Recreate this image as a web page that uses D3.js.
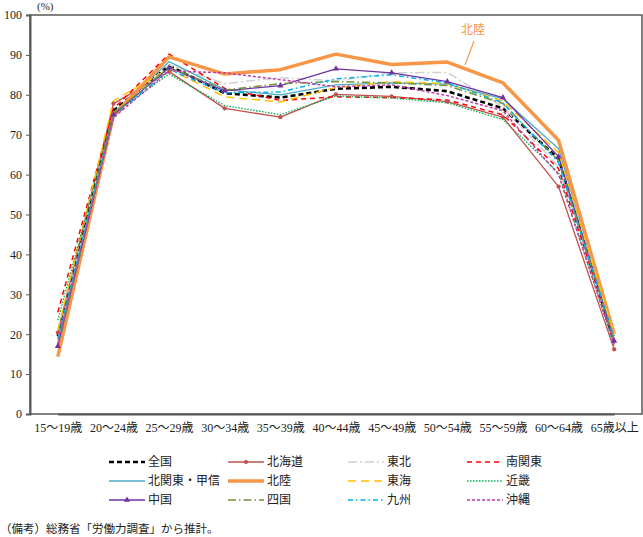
<!DOCTYPE html>
<html>
<head>
<meta charset="utf-8">
<script src="https://cdn.jsdelivr.net/npm/d3@7"></script>
<style>
  body { margin: 0; background: #fff; }
  svg text { font-family: "Liberation Serif", "Noto Sans CJK JP", serif; }
</style>
</head>
<body>
<div id="chart"></div>
<script>
!(function () {
  // - - - - - - - - - -

  const ages = ['15～19歳', '20～24歳', '25～29歳', '30～34歳', '35～39歳', '40～44歳',
    '45～49歳', '50～54歳', '55～59歳', '60～64歳', '65歳以上'];
  const yTicks = [0, 10, 20, 30, 40, 50, 60, 70, 80, 90, 100];

  const zenkoku   = [19.5, 76.0, 87.3, 80.4, 79.3, 81.5, 82.0, 80.9, 76.6, 64.0, 18.0];
  const hokkaido  = [20.4, 77.8, 85.8, 76.6, 74.4, 80.1, 79.6, 78.3, 74.4, 57.0, 16.2];
  const tohoku    = [17.5, 75.0, 87.5, 82.8, 84.3, 83.5, 85.5, 85.6, 77.0, 62.0, 19.0];
  const minamiKanto = [25.5, 76.5, 90.2, 81.6, 78.6, 79.5, 79.3, 78.7, 75.0, 61.5, 18.5];
  const kitaKanto = [18.5, 75.5, 88.3, 81.3, 80.0, 82.5, 83.0, 82.7, 79.0, 66.5, 19.5];
  const hokuriku  = [14.4, 74.8, 89.5, 85.2, 86.3, 90.2, 87.6, 88.2, 83.0, 68.6, 20.0];
  const tokai     = [21.0, 78.5, 86.5, 79.5, 78.2, 81.8, 83.3, 82.8, 78.4, 65.5, 20.0];
  const kinki     = [23.5, 75.3, 85.2, 77.3, 75.0, 79.7, 79.2, 78.0, 73.8, 60.5, 17.0];
  const chugoku   = [17.0, 75.0, 86.8, 81.0, 82.3, 86.5, 85.5, 83.3, 79.3, 64.5, 18.3];
  const shikoku   = [16.5, 75.2, 87.0, 81.2, 82.8, 83.3, 83.0, 82.3, 77.8, 63.5, 18.5];
  const kyushu    = [19.0, 74.5, 86.3, 80.5, 80.7, 84.0, 85.0, 83.0, 78.0, 63.0, 19.0];
  const okinawa   = [17.5, 74.3, 86.0, 85.5, 83.8, 82.0, 82.5, 79.8, 76.0, 60.0, 17.5];

  const series = [
    { name: '全国', values: zenkoku, color: '#000000', width: 2.6, dash: '5,3' },
    { name: '北海道', values: hokkaido, color: '#C0504D', width: 1.3, dash: null, marker: 'circle' },
    { name: '東北', values: tohoku, color: '#D0D0D0', width: 1.5, dash: '9,3,2,3' },
    { name: '南関東', values: minamiKanto, color: '#FF0000', width: 1.5, dash: '5,4' },
    { name: '北関東・甲信', values: kitaKanto, color: '#4BACC6', width: 1.3, dash: null },
    { name: '北陸', values: hokuriku, color: '#F79646', width: 3.5, dash: null },
    { name: '東海', values: tokai, color: '#FFC000', width: 1.5, dash: '8,5' },
    { name: '近畿', values: kinki, color: '#00B050', width: 1.3, dash: '1.5,1.5' },
    { name: '中国', values: chugoku, color: '#7030A0', width: 1.3, dash: null, marker: 'triangle' },
    { name: '四国', values: shikoku, color: '#77933C', width: 1.5, dash: '8,3,1.5,3' },
    { name: '九州', values: kyushu, color: '#00B0F0', width: 1.5, dash: '5,3,1.5,3' },
    { name: '沖縄', values: okinawa, color: '#C03CA8', width: 1.5, dash: '3,2' }
  ];

  let
    width = 643,
    height = 537,
    left = 30,
    right = 642,
    top = 15,
    bottom = 414,
    band = (right - left) / ages.length;

  const x = d3.scalePoint()
    .domain(ages)
    .range([left + band / 2, right - band / 2]);

  const y = d3.scaleLinear()
    .domain([0, 100])
    .range([bottom, top]);

  const svg = d3.select('#chart')
    .append('svg')
    .attr('width', width)
    .attr('height', height)
    .attr('viewBox', '0 0 ' + width + ' ' + height);

  // frame
  svg.append('rect')
    .attr('x', left)
    .attr('y', top)
    .attr('width', right - left)
    .attr('height', bottom - top)
    .style('fill', 'none')
    .style('stroke', '#595959')
    .style('stroke-width', 1.5);

  // y axis
  const yAxis = svg.append('g')
    .attr('transform', 'translate(' + left + ',0)')
    .call(d3.axisLeft(y).tickValues(yTicks).tickSize(4).tickPadding(4));
  yAxis.select('.domain').style('stroke', '#595959').style('stroke-width', 2);
  yAxis.selectAll('line').style('stroke', '#595959');
  yAxis.selectAll('text').style('font-size', '12px').style('fill', '#222');

  svg.append('text')
    .attr('x', 37)
    .attr('y', 10)
    .style('font-size', '11px')
    .style('fill', '#222')
    .text('(%)');

  // x axis
  const xAxis = svg.append('g')
    .attr('transform', 'translate(0,' + bottom + ')')
    .call(d3.axisBottom(x).tickSize(0).tickPadding(9));
  xAxis.select('.domain').style('stroke', '#595959').style('stroke-width', 2);
  xAxis.selectAll('text').style('font-size', '12px').style('fill', '#222');

  // lines
  const line = d3.line()
    .x(function (d, i) { return x(ages[i]); })
    .y(function (d) { return y(d); });

  svg.selectAll('.series')
    .data(series)
    .enter()
    .append('path')
    .attr('class', 'series')
    .attr('d', function (d) { return line(d.values); })
    .style('fill', 'none')
    .style('stroke', function (d) { return d.color; })
    .style('stroke-width', function (d) { return d.width; })
    .style('stroke-dasharray', function (d) { return d.dash; })
    .style('stroke-linejoin', 'round');

  // markers
  const symbolFor = function (m) {
    return d3.symbol().type(m === 'triangle' ? d3.symbolTriangle : d3.symbolCircle).size(m === 'triangle' ? 16 : 14)();
  };

  series.filter(function (d) { return d.marker; }).forEach(function (s) {
    svg.selectAll(null)
      .data(s.values)
      .enter()
      .append('path')
      .attr('d', symbolFor(s.marker))
      .attr('transform', function (d, i) { return 'translate(' + x(ages[i]) + ',' + y(d) + ')'; })
      .style('fill', s.color);
  });

  // 北陸 callout
  svg.append('line')
    .attr('x1', 474).attr('y1', 41)
    .attr('x2', 465).attr('y2', 65)
    .style('stroke', '#F79646')
    .style('stroke-width', 1.2);
  svg.append('text')
    .attr('x', 473)
    .attr('y', 34)
    .attr('text-anchor', 'middle')
    .style('font-size', '12px')
    .style('fill', '#F79646')
    .text('北陸');

  // legend
  const colX = [109, 228, 348, 467];
  const rowY = [462, 481, 500];

  const legend = svg.selectAll('.legend')
    .data(series)
    .enter()
    .append('g')
    .attr('class', 'legend')
    .attr('transform', function (d, i) {
      return 'translate(' + colX[i % 4] + ',' + rowY[Math.floor(i / 4)] + ')';
    });

  legend.append('line')
    .attr('x1', 0).attr('x2', 36)
    .attr('y1', 0).attr('y2', 0)
    .style('stroke', function (d) { return d.color; })
    .style('stroke-width', function (d) { return d.width; })
    .style('stroke-dasharray', function (d) { return d.dash; });

  legend.filter(function (d) { return d.marker; })
    .append('path')
    .attr('d', function (d) { return symbolFor(d.marker); })
    .attr('transform', 'translate(18,0)')
    .style('fill', function (d) { return d.color; });

  legend.append('text')
    .attr('x', 39)
    .attr('y', 4)
    .style('font-size', '12px')
    .style('fill', '#222')
    .text(function (d) { return d.name; });

  // note
  svg.append('text')
    .attr('x', 0)
    .attr('y', 533)
    .style('font-size', '11.5px')
    .style('fill', '#222')
    .text('（備考）総務省「労働力調査」から推計。');

  // - - - - - - - - - -
}());
</script>
</body>
</html>
